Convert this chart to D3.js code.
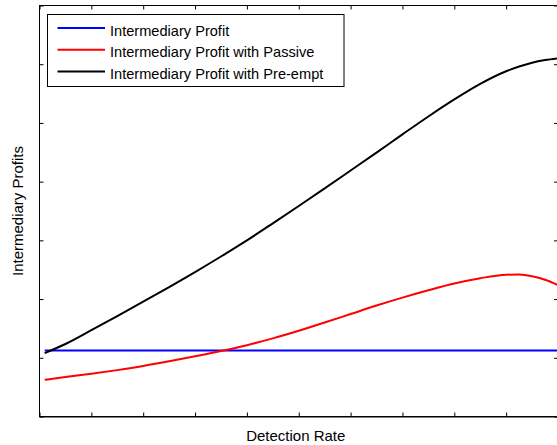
<!DOCTYPE html>
<html>
<head>
<meta charset="utf-8">
<script src="https://cdn.jsdelivr.net/npm/d3@7"></script>
<style>
  html, body { margin: 0; padding: 0; background: #fff; }
  svg { display: block; }
  text { font-family: "Liberation Sans", Arial, sans-serif; }
</style>
</head>
<body>
<svg id="chart" width="557" height="445"></svg>
<script>
// ---- data ----
const detectionRate = [0.01, 0.05, 0.10, 0.15, 0.20, 0.25, 0.30, 0.35, 0.40, 0.45, 0.50,
                       0.55, 0.60, 0.65, 0.70, 0.75, 0.80, 0.85, 0.90, 0.925, 0.95, 0.975, 1.00];
const profitBase = [1.124, 1.124, 1.124, 1.124, 1.124, 1.124, 1.124, 1.124, 1.124, 1.124, 1.124,
                    1.124, 1.124, 1.124, 1.124, 1.124, 1.124, 1.124, 1.124, 1.124, 1.124, 1.124, 1.124];
const profitPassive = [0.625, 0.672, 0.727, 0.790, 0.860, 0.940, 1.025, 1.115, 1.215, 1.330, 1.460,
                       1.600, 1.745, 1.890, 2.025, 2.150, 2.265, 2.355, 2.415, 2.420, 2.390, 2.330, 2.240];
const profitPreempt = [1.080, 1.235, 1.470, 1.710, 1.955, 2.205, 2.460, 2.725, 3.000, 3.290, 3.585,
                       3.885, 4.190, 4.495, 4.805, 5.110, 5.400, 5.665, 5.880, 5.960, 6.025, 6.070, 6.100];
const seriesNames = ["Intermediary Profit", "Intermediary Profit with Passive", "Intermediary Profit with Pre-empt"];
const seriesColors = ["#0000ff", "#ff0000", "#000000"];
const xTicks = [0, 0.1, 0.2, 0.3, 0.4, 0.5, 0.6, 0.7, 0.8, 0.9, 1.0];
const yTicks = [0, 1, 2, 3, 4, 5, 6, 7];
const xLabel = "Detection Rate";
const yLabel = "Intermediary Profits";

// ---- layout ----
const svg = d3.select("#chart");
const L = 39.5, R = 558, T = 5.5, B = 416.5;
const x = d3.scaleLinear().domain([0, 1]).range([L, R]);
const y = d3.scaleLinear().domain([0, 7]).range([B, T]);

svg.append("rect").attr("width", 557).attr("height", 445).attr("fill", "#fff");

// inward ticks on all four sides
const tk = 4;
svg.append("g").attr("transform", `translate(0,${B})`)
  .call(d3.axisTop(x).tickValues(xTicks).tickSize(tk).tickFormat(""))
  .call(g => g.select(".domain").remove());
svg.append("g").attr("transform", `translate(0,${T})`)
  .call(d3.axisBottom(x).tickValues(xTicks).tickSize(tk).tickFormat(""))
  .call(g => g.select(".domain").remove());
svg.append("g").attr("transform", `translate(${L},0)`)
  .call(d3.axisRight(y).tickValues(yTicks).tickSize(tk).tickFormat(""))
  .call(g => g.select(".domain").remove());
svg.append("g").attr("transform", `translate(${R},0)`)
  .call(d3.axisLeft(y).tickValues(yTicks).tickSize(tk).tickFormat(""))
  .call(g => g.select(".domain").remove());
svg.selectAll(".tick line").attr("stroke", "#000").attr("stroke-width", 1);

// box
svg.append("rect").attr("x", L).attr("y", T).attr("width", R - L).attr("height", B - T)
  .attr("fill", "none").attr("stroke", "#000").attr("stroke-width", 1);
svg.append("line").attr("x1", L).attr("x2", R).attr("y1", B + 0.5).attr("y2", B + 0.5)
  .attr("stroke", "#000").attr("stroke-width", 1);

// lines
const series = [profitBase, profitPassive, profitPreempt];
const line = d3.line().curve(d3.curveMonotoneX)
  .x((d, i) => x(detectionRate[i])).y(d => y(d));
svg.append("clipPath").attr("id", "clip").append("rect")
  .attr("x", L).attr("y", T).attr("width", R - L).attr("height", B - T);
series.forEach((s, k) => {
  svg.append("path").datum(s).attr("d", line)
    .attr("fill", "none").attr("stroke", seriesColors[k]).attr("stroke-width", 2)
    .attr("stroke-linejoin", "round").attr("clip-path", "url(#clip)");
});

// labels
svg.append("text").attr("x", (L + R) / 2 - 3).attr("y", 441).attr("text-anchor", "middle")
  .attr("font-size", 15).attr("fill", "#000").text(xLabel);
svg.append("text").attr("transform", `translate(23,${(T + B) / 2}) rotate(-90)`)
  .attr("text-anchor", "middle").attr("font-size", 15).attr("fill", "#000").text(yLabel);

// legend
const lg = svg.append("g");
lg.append("rect").attr("x", 47.5).attr("y", 14.5).attr("width", 296.5).attr("height", 72)
  .attr("fill", "#fff").attr("stroke", "#000").attr("stroke-width", 1);
seriesNames.forEach((n, k) => {
  const yy = 28 + k * 21.8;
  lg.append("line").attr("x1", 57.5).attr("x2", 105).attr("y1", yy).attr("y2", yy)
    .attr("stroke", seriesColors[k]).attr("stroke-width", 2);
  lg.append("text").attr("x", 110).attr("y", yy + 7.5).attr("font-size", 14.6)
    .attr("fill", "#000").text(n);
});
</script>
</body>
</html>
